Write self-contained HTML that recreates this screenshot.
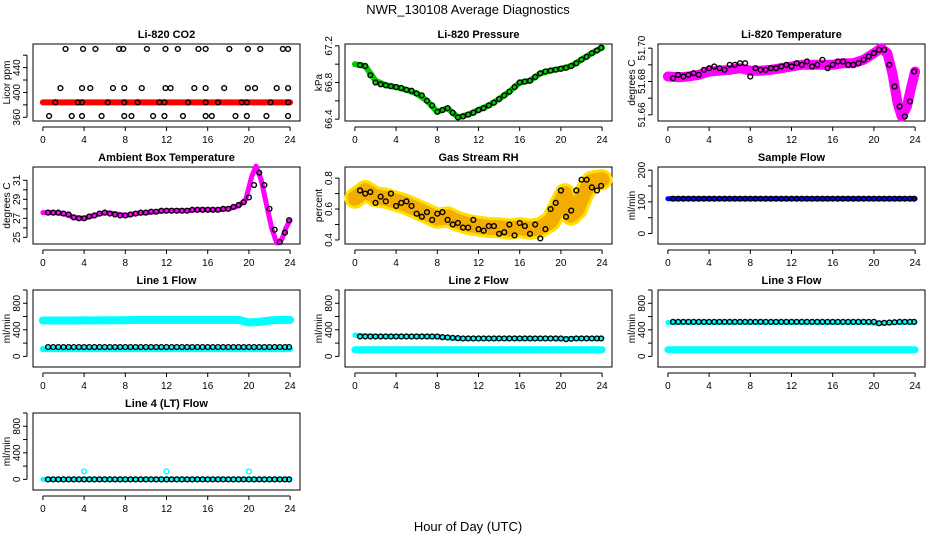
<!DOCTYPE html>
<html><head><meta charset="utf-8">
<style>
html,body{margin:0;padding:0;background:#fff;}
svg{display:block;font-family:"Liberation Sans",Arial,sans-serif;}
</style></head>
<body>
<svg id="c" width="936" height="540" viewBox="0 0 936 540" xmlns="http://www.w3.org/2000/svg">
<text x="468" y="14" text-anchor="middle" font-size="13">NWR_130108  Average Diagnostics</text>
<text x="468" y="531" text-anchor="middle" font-size="13">Hour of Day (UTC)</text>
</svg>
<script>
// ---- data ----
const xTicks = [0,4,8,12,16,20,24];
const hrs = [0.5,1,1.5,2,2.5,3,3.5,4,4.5,5,5.5,6,6.5,7,7.5,8,8.5,9,9.5,10,10.5,11,11.5,12,12.5,13,13.5,14,14.5,15,15.5,16,16.5,17,17.5,18,18.5,19,19.5,20,20.5,21,21.5,22,22.5,23,23.5,23.9];
const bandHrs = [0,1,2,3,4,5,6,7,8,9,10,11,12,13,14,15,16,17,18,19,20,21,22,23,24];

// CO2
const co2Band = [384,384,384,384,384,384,384,384,384,384,384,384,384,384,384,384,384,384,384,384,384,384,384,384,384];
const co2Hi = [2.2,3.9,5.1,7.4,7.8,10.1,11.9,13.1,15.1,15.8,18.1,19.9,21.1,23.3,23.8];
const co2Mid = [1.7,3.8,4.6,6.8,7.9,9.6,11.9,12.4,14.7,15.8,17.6,19.9,20.6,22.7,23.8];
const co2Base = [1.2,3.4,3.8,6.3,7.9,9.2,11.3,11.8,14.1,15.8,17,19.3,19.8,22.1,23.8];
const co2Lo = [0.6,2.8,3.8,5.7,7.9,8.6,10.7,11.8,13.6,15.8,16.4,18.7,19.8,21.7,23.8];

// Pressure
const presBand = [67.0,66.98,66.82,66.77,66.75,66.72,66.68,66.6,66.48,66.52,66.42,66.45,66.5,66.55,66.62,66.7,66.8,66.82,66.9,66.93,66.95,66.98,67.05,67.12,67.18];
const presPts = [66.99,66.98,66.88,66.8,66.78,66.77,66.76,66.75,66.74,66.72,66.71,66.68,66.66,66.6,66.55,66.48,66.5,66.52,66.47,66.42,66.43,66.45,66.47,66.5,66.52,66.55,66.58,66.62,66.66,66.7,66.75,66.8,66.81,66.82,66.86,66.9,66.92,66.93,66.94,66.95,66.96,66.98,67.01,67.05,67.08,67.12,67.15,67.18];

// Li-820 temperature
const tempHrs = [0,1,2,3,4,5,6,7,8,9,10,11,12,13,14,15,16,17,18,19,20,20.7,21.3,21.8,22.3,22.7,23.2,23.6,24];
const tempBand = [51.683,51.6825,51.683,51.684,51.686,51.6865,51.687,51.688,51.6865,51.6865,51.687,51.688,51.689,51.690,51.690,51.690,51.690,51.691,51.691,51.693,51.697,51.700,51.697,51.685,51.667,51.659,51.665,51.676,51.686];
const tempPts = [51.682,51.684,51.683,51.684,51.685,51.684,51.687,51.688,51.689,51.688,51.687,51.690,51.690,51.691,51.691,51.683,51.688,51.687,51.687,51.688,51.688,51.689,51.690,51.689,51.691,51.690,51.692,51.689,51.690,51.693,51.688,51.690,51.692,51.692,51.690,51.690,51.691,51.693,51.695,51.697,51.699,51.699,51.690,51.677,51.665,51.659,51.668,51.686];

// Ambient box temperature
const ambHrs = [0,1,2,3,4,5,6,7,8,9,10,11,12,13,14,15,16,17,18,19,19.7,20.3,20.7,21.2,21.7,22.2,22.7,23.2,23.6,24];
const ambBand = [27.6,27.6,27.5,27.1,27.0,27.3,27.6,27.5,27.3,27.5,27.6,27.7,27.8,27.8,27.8,27.9,27.9,27.9,28.0,28.3,29.0,31.5,32.5,31.0,28.5,26.0,24.4,24.8,26.0,26.8];
const ambPts = [27.6,27.6,27.6,27.5,27.4,27.1,27.0,27.0,27.2,27.3,27.5,27.6,27.5,27.4,27.3,27.3,27.4,27.5,27.6,27.6,27.7,27.7,27.8,27.8,27.8,27.8,27.8,27.8,27.9,27.9,27.9,27.9,27.9,27.9,28.0,28.0,28.2,28.4,28.7,29.2,30.5,31.8,30.5,28.0,25.8,24.5,25.5,26.8];

// Gas stream RH
const rhHrs = [0,1,2,3,4,5,6,7,8,9,10,11,12,13,14,15,16,17,18,19,19.8,20.4,21,21.6,22.2,23,24];
const rhBand = [0.67,0.72,0.68,0.67,0.65,0.63,0.60,0.57,0.54,0.55,0.52,0.50,0.49,0.48,0.48,0.47,0.48,0.47,0.48,0.52,0.62,0.70,0.56,0.60,0.70,0.78,0.79];
const rhPts = [0.72,0.70,0.71,0.64,0.68,0.65,0.70,0.62,0.64,0.65,0.62,0.57,0.55,0.58,0.53,0.57,0.58,0.53,0.50,0.51,0.48,0.48,0.53,0.47,0.46,0.49,0.49,0.44,0.45,0.50,0.43,0.51,0.49,0.44,0.50,0.41,0.47,0.60,0.64,0.72,0.55,0.59,0.72,0.79,0.79,0.74,0.72,0.75];

// Flows
const sampleBand = [110,110,110,110,110,110,110,110,110,110,110,110,110,110,110,110,110,110,110,110,110,110,110,110,110];
const samplePts = [110,110,110,110,110,110,110,110,110,110,110,110,110,110,110,110,110,110,110,110,110,110,110,110,110,110,110,110,110,110,110,110,110,110,110,110,110,110,110,110,110,110,110,110,110,110,110,110];
const l1High = [540,540,540,540,545,540,545,545,545,550,550,550,550,550,550,550,550,550,550,550,510,520,540,550,550];
const l1Low = [110,110,110,110,110,110,110,110,110,110,110,110,110,110,110,110,110,110,110,110,110,110,110,110,110];
const l1Pts = [140,140,140,140,140,140,140,140,140,140,140,140,140,140,140,140,140,140,140,140,140,140,140,140,140,140,140,140,140,140,140,140,140,140,140,140,140,140,140,140,140,140,140,140,140,140,140,140];
const l2High = [320,310,300,300,300,300,300,300,290,280,270,270,270,270,270,270,270,270,270,270,260,270,270,270,270];
const l2Low = [100,100,100,100,100,100,100,100,100,100,100,100,100,100,100,100,100,100,100,100,100,100,100,100,100];
const l2Pts = [300,300,300,300,300,300,300,300,300,300,300,300,300,300,300,300,290,285,280,275,270,270,270,270,270,270,270,270,270,270,270,270,270,270,270,270,270,270,270,270,260,265,270,270,270,270,270,270];
const l3High = [510,510,510,510,510,510,510,510,510,510,510,510,510,510,510,510,510,510,510,510,500,500,510,510,510];
const l3Low = [100,100,100,100,100,100,100,100,100,100,100,100,100,100,100,100,100,100,100,100,100,100,100,100,100];
const l3Pts = [520,520,520,520,520,520,520,520,520,520,520,520,520,520,520,520,520,520,520,520,520,520,520,520,520,520,520,520,520,520,520,520,520,520,520,520,520,520,520,520,500,505,510,515,520,520,520,520];
const l4Band = [0,0,0,0,0,0,0,0,0,0,0,0,0,0,0,0,0,0,0,0,0,0,0,0,0];
const l4Pts = [0,0,0,0,0,0,0,0,0,0,0,0,0,0,0,0,0,0,0,0,0,0,0,0,0,0,0,0,0,0,0,0,0,0,0,0,0,0,0,0,0,0,0,0,0,0,0,0];
const l4SpikeHrs = [4,12,20];
const l4SpikeVals = [120,120,120];

// ---- drawing ----
const svg = document.getElementById('c');
const NS = 'http://www.w3.org/2000/svg';
function mk(tag, attrs, parent){
  const e = document.createElementNS(NS, tag);
  for (const k in attrs) e.setAttribute(k, attrs[k]);
  (parent||svg).appendChild(e);
  return e;
}
const colX = [33,345,658], rowY = [44,167,290,413], W = 267, H = 77;

function panel(col,row,title,ylab,ymin,ymax,yticks,dec,name){
  const L = colX[col], T = rowY[row];
  const g = mk('g',{});
  
  
  const sx = h => L + (h + 0.96) / 25.92 * W;
  const sy = v => T + H - (v - ymin) / (ymax - ymin) * H;
  const box = mk('rect',{x:L,y:T,width:W,height:H,fill:'none',stroke:'#000','stroke-width':1},g);
  
  
  const tt = mk('text',{x:L+W/2,y:T-6,'text-anchor':'middle','font-size':11,'font-weight':'bold'},g);
  tt.textContent = title;
  
  
  mk('line',{x1:sx(0),x2:sx(24),y1:T+H+6,y2:T+H+6,stroke:'#000'},g);
  xTicks.forEach(t=>{
    mk('line',{x1:sx(t),x2:sx(t),y1:T+H+6,y2:T+H+10,stroke:'#000'},g);
    const tx = mk('text',{x:sx(t),y:T+H+22,'text-anchor':'middle','font-size':10},g);
    tx.textContent = t;
    
    
  });
  mk('line',{x1:L-6,x2:L-6,y1:sy(yticks[0]),y2:sy(yticks[yticks.length-1]),stroke:'#000'},g);
  yticks.forEach(t=>{
    mk('line',{x1:L-10,x2:L-6,y1:sy(t),y2:sy(t),stroke:'#000'},g);
  });
  yticks.filter((_,i)=>i%2===0).forEach(t=>{
    const ty = mk('text',{x:0,y:0,'text-anchor':'middle','font-size':10,transform:`translate(${L-13},${sy(t)}) rotate(-90)`},g);
    ty.textContent = t.toFixed(dec);
    
    
  });
  const yl = mk('text',{x:0,y:0,'text-anchor':'middle','font-size':10,transform:`translate(${L-23},${T+H/2}) rotate(-90)`},g);
  yl.textContent = ylab;
  
  
  return {g,sx,sy};
}
function band(p,xs,ys,color,w,name,op){
  const pts = xs.map((h,i)=>p.sx(h).toFixed(1)+','+p.sy(ys[i]).toFixed(1)).join(' ');
  const pl = mk('polyline',{points:pts,fill:'none',stroke:color,'stroke-width':w,'stroke-linejoin':'round','stroke-linecap':'round','stroke-opacity':op||1},p.g);
  
  
}
function pts(p,xs,ys,color,name){
  xs.forEach((h,i)=>{
    const c = mk('circle',{cx:p.sx(h),cy:p.sy(ys[i]),r:2.4,fill:'none',stroke:color,'stroke-width':1.4},p.g);
    
    
  });
}
function constPts(p,xs,v,color,name){ pts(p,xs,xs.map(()=>v),color,name); }

let p;
p = panel(0,0,'Li-820 CO2','Licor ppm',354,478,[360,380,400,420,440,460],0,'co2-panel');
band(p,bandHrs,co2Band,'#ff0000',6,'co2-band');
constPts(p,co2Hi,470,'#000','co2-point');
constPts(p,co2Mid,407,'#000','co2-point');
constPts(p,co2Base,384,'#000','co2-point');
constPts(p,co2Lo,362,'#000','co2-point');

p = panel(1,0,'Li-820 Pressure','kPa',66.38,67.22,[66.4,66.6,66.8,67.0,67.2],1,'pressure-panel');
band(p,bandHrs,presBand,'#00cc00',6,'pressure-band');
pts(p,hrs,presPts,'#000','pressure-point');

p = panel(2,0,'Li-820 Temperature','degrees C',51.6563,51.7025,[51.66,51.67,51.68,51.69,51.70],2,'li820-temp-panel');
band(p,tempHrs,tempBand,'#ff00ff',10,'temp-band');
pts(p,hrs,tempPts,'#000','temp-point');

p = panel(0,1,'Ambient Box Temperature','degrees C',24.3,32.4,[25,26,27,28,29,30,31],0,'ambient-temp-panel');
band(p,ambHrs,ambBand,'#ff00ff',5,'ambient-band');
pts(p,hrs,ambPts,'#000','ambient-point');

p = panel(1,1,'Gas Stream RH','percent',0.374,0.872,[0.4,0.5,0.6,0.7,0.8],1,'rh-panel');
band(p,rhHrs,rhBand,'#ffe000',21,'rh-band-outer');
band(p,rhHrs,rhBand,'#f0a000',15,'rh-band',0.8);
pts(p,hrs,rhPts,'#000','rh-point');

p = panel(2,1,'Sample Flow','ml/min',-33,210,[0,50,100,150,200],0,'sample-flow-panel');
band(p,bandHrs,sampleBand,'#0000ff',5,'sample-band');
pts(p,hrs,samplePts,'#000','sample-point');

const flowTicks = [0,200,400,600,800,1000];
p = panel(0,2,'Line 1 Flow','ml/min',-160,1000,flowTicks,0,'line1-flow-panel');
band(p,bandHrs,l1High,'#00ffff',8,'line1-high-band');
band(p,bandHrs,l1Low,'#00ffff',6,'line1-low-band');
pts(p,hrs,l1Pts,'#000','line1-point');

p = panel(1,2,'Line 2 Flow','ml/min',-160,1000,flowTicks,0,'line2-flow-panel');
band(p,bandHrs,l2Low,'#00ffff',7,'line2-low-band');
band(p,bandHrs,l2High,'#00ffff',5,'line2-high-band');
pts(p,hrs,l2Pts,'#000','line2-point');

p = panel(2,2,'Line 3 Flow','ml/min',-160,1000,flowTicks,0,'line3-flow-panel');
band(p,bandHrs,l3Low,'#00ffff',7,'line3-low-band');
band(p,bandHrs,l3High,'#00ffff',5,'line3-high-band');
pts(p,hrs,l3Pts,'#000','line3-point');

p = panel(0,3,'Line 4 (LT) Flow','ml/min',-160,1000,flowTicks,0,'line4-flow-panel');
band(p,bandHrs,l4Band,'#00ffff',5,'line4-band');
pts(p,l4SpikeHrs,l4SpikeVals,'#00ffff','line4-spike');
pts(p,hrs,l4Pts,'#000','line4-point');
</script>
</body></html>
